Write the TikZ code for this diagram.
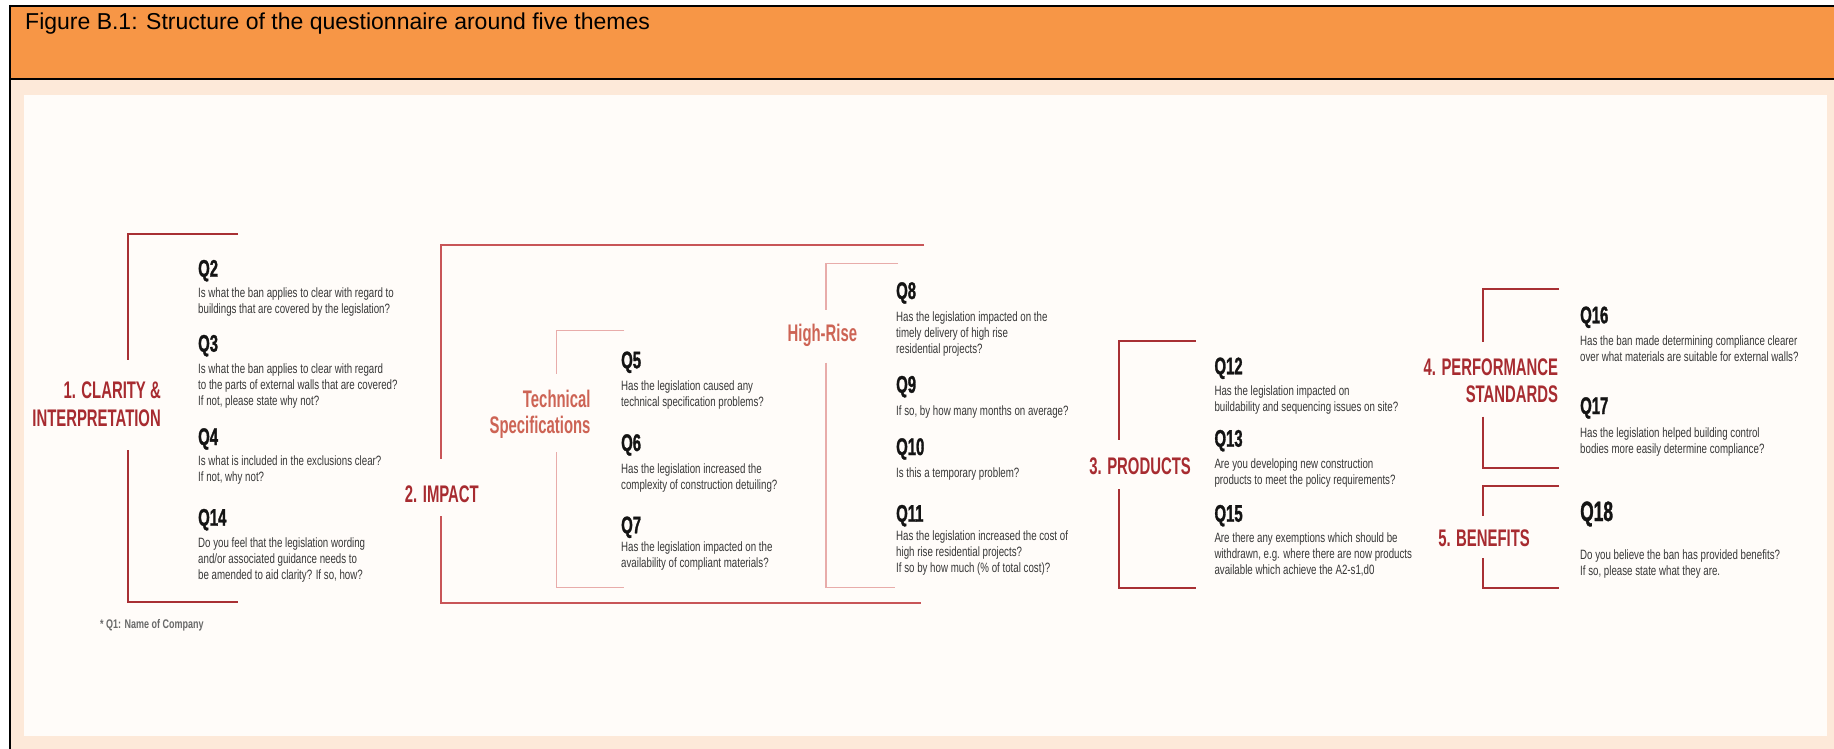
\documentclass[tikz,border=0pt]{standalone}
\usepackage{fontspec}
\setmainfont{Liberation Sans}
\newfontfamily\bodyf[FakeStretch=0.72]{Liberation Sans}
\newfontfamily\headf[FakeStretch=0.62]{Liberation Sans}
\newfontfamily\qfont[FakeStretch=0.62,FakeBold=1.2]{Liberation Sans}
\definecolor{orangeh}{HTML}{F79646}
\definecolor{peach}{HTML}{FDE9D9}
\definecolor{panel}{HTML}{FFFCF9}
\definecolor{redh}{RGB}{167,43,48}
\definecolor{salmon}{RGB}{205,100,85}
\definecolor{brmain}{RGB}{168,48,52}
\definecolor{brimp}{RGB}{200,85,88}
\definecolor{brsub}{RGB}{232,172,170}
\definecolor{qcol}{RGB}{20,20,20}
\definecolor{tcol}{RGB}{55,55,55}
\definecolor{notec}{RGB}{105,105,105}
\tikzset{
  qh/.style={anchor=base west, inner sep=0pt, font=\qfont\bfseries\fontsize{24}{24}\selectfont, text=qcol},
  qt/.style={anchor=base west, inner sep=0pt, align=left, font=\bodyf\fontsize{13.5}{16}\selectfont, text=tcol},
  mainh/.style={anchor=base east, inner sep=0pt, align=right, font=\headf\bfseries\fontsize{24}{28}\selectfont, text=redh},
  subh/.style={anchor=base east, inner sep=0pt, align=right, font=\headf\bfseries\fontsize{24}{26}\selectfont, text=salmon},
  mainbr/.style={draw=brmain, line width=2pt},
  impbr/.style={draw=brimp, line width=1.8pt},
  subbr/.style={draw=brsub, line width=1.5pt},
  frameline/.style={draw=black, line width=2pt}
}
\begin{document}
\begin{tikzpicture}[x=1pt,y=-1pt]
\useasboundingbox (0,0) rectangle (1834,749);
% background
\fill[white] (0,0) rectangle (1834,749);
\fill[orangeh] (10,6) rectangle (1834,79);
\fill[peach] (10,79) rectangle (1834,749);
\fill[panel] (24,95) rectangle (1827,736);
\draw[frameline] (9,5.8) -- (1834,5.8);
\draw[frameline] (9,78.8) -- (1834,78.8);
\draw[frameline] (10,5) -- (10,749);
\node[anchor=base west, inner sep=0pt, font=\fontsize{23}{26}\selectfont, text=black] (title) at (25,29.5) {Figure B.1: Structure of the questionnaire around five themes};

% ---------- 1. Clarity ----------
\draw[mainbr] (238,234) -- (128,234) -- (128,360);
\draw[mainbr] (128,450) -- (128,602) -- (238,602);
\node[mainh] (clar) at (161,426) {1. CLARITY \&\\INTERPRETATION};
\node[qh] (q2) at (198,276.7) {Q2};
\node[qt] (q2t) at (198,313.5) {Is what the ban applies to clear with regard to\\buildings that are covered by the legislation?};
\node[qh] (q3) at (198,351.7) {Q3};
\node[qt] (q3t) at (198,405) {Is what the ban applies to clear with regard\\to the parts of external walls that are covered?\\If not, please state why not?};
\node[qh] (q4) at (198,445) {Q4};
\node[qt] (q4t) at (198,481.5) {Is what is included in the exclusions clear?\\If not, why not?};
\node[qh] (q14) at (198,525.7) {Q14};
\node[qt] (q14t) at (198,579) {Do you feel that the legislation wording\\and/or associated guidance needs to\\be amended to aid clarity? If so, how?};
\node[anchor=base west, inner sep=0pt, font=\bodyf\bfseries\fontsize{12.5}{14}\selectfont, text=notec] (note) at (100,628) {* Q1: Name of Company};

% ---------- 2. Impact ----------
\draw[impbr] (924,245) -- (441,245) -- (441,459.3);
\draw[impbr] (441,516) -- (441,602.7) -- (921,602.7);
\node[mainh] (imp) at (479,502.3) {2. IMPACT};

% Technical specifications
\draw[subbr] (624.3,330.7) -- (556.7,330.7) -- (556.7,374);
\draw[subbr] (556.7,452.3) -- (556.7,587.7) -- (624.3,587.7);
\node[subh] (tech) at (590.7,433.3) {Technical\\Specifications};
\node[qh] (q5) at (621,368.3) {Q5};
\node[qt] (q5t) at (621,406.7) {Has the legislation caused any\\technical specification problems?};
\node[qh] (q6) at (621,451) {Q6};
\node[qt] (q6t) at (621,489.3) {Has the legislation increased the\\complexity of construction detuiling?};
\node[qh] (q7) at (621,533.3) {Q7};
\node[qt] (q7t) at (621,567) {Has the legislation impacted on the\\availability of compliant materials?};

% High-Rise
\draw[subbr] (898,263.3) -- (826,263.3) -- (826,310);
\draw[subbr] (826,362.7) -- (826,587.7) -- (895,587.7);
\node[subh] (hr) at (857.3,341.7) {High-Rise};
\node[qh] (q8) at (896,299) {Q8};
\node[qt] (q8t) at (896,353.5) {Has the legislation impacted on the\\timely delivery of high rise\\residential projects?};
\node[qh] (q9) at (896,392.7) {Q9};
\node[qt] (q9t) at (896,415) {If so, by how many months on average?};
\node[qh] (q10) at (896,455) {Q10};
\node[qt] (q10t) at (896,477.3) {Is this a temporary problem?};
\node[qh] (q11) at (896,521.7) {Q11};
\node[qt] (q11t) at (896,572.5) {Has the legislation increased the cost of\\high rise residential projects?\\If so by how much (\% of total cost)?};

% ---------- 3. Products ----------
\draw[mainbr] (1195.5,340.7) -- (1119,340.7) -- (1119,440);
\draw[mainbr] (1119,489.3) -- (1119,587.7) -- (1195.5,587.7);
\node[mainh] (prod) at (1191,474) {3. PRODUCTS};
\node[qh] (q12) at (1214.3,374.3) {Q12};
\node[qt] (q12t) at (1214.3,411.5) {Has the legislation impacted on\\buildability and sequencing issues on site?};
\node[qh] (q13) at (1214.3,446.7) {Q13};
\node[qt] (q13t) at (1214.3,484) {Are you developing new construction\\products to meet the policy requirements?};
\node[qh] (q15) at (1214.3,521.7) {Q15};
\node[qt] (q15t) at (1214.3,574.5) {Are there any exemptions which should be\\withdrawn, e.g. where there are now products\\available which achieve the A2-s1,d0};

% ---------- 4. Performance standards ----------
\draw[mainbr] (1559,289) -- (1482.7,289) -- (1482.7,341.7);
\draw[mainbr] (1482.7,416.7) -- (1482.7,468.3) -- (1559,468.3);
\node[mainh, font=\headf\bfseries\fontsize{24}{27.7}\selectfont] (perf) at (1558.3,402.7) {4. PERFORMANCE\\STANDARDS};
\node[qh] (q16) at (1580,323.3) {Q16};
\node[qt] (q16t) at (1580,361.7) {Has the ban made determining compliance clearer\\over what materials are suitable for external walls?};
\node[qh] (q17) at (1580,414) {Q17};
\node[qt] (q17t) at (1580,453.5) {Has the legislation helped building control\\bodies more easily determine compliance?};

% ---------- 5. Benefits ----------
\draw[mainbr] (1559,485.7) -- (1482.7,485.7) -- (1482.7,516);
\draw[mainbr] (1482.7,558.3) -- (1482.7,588.3) -- (1559,588.3);
\node[mainh] (ben) at (1530,546.7) {5. BENEFITS};
\node[qh, font=\qfont\bfseries\fontsize{28}{30}\selectfont] (q18) at (1580,521) {Q18};
\node[qt] (q18t) at (1580,575) {Do you believe the ban has provided benefits?\\If so, please state what they are.};
\end{tikzpicture}
\end{document}
